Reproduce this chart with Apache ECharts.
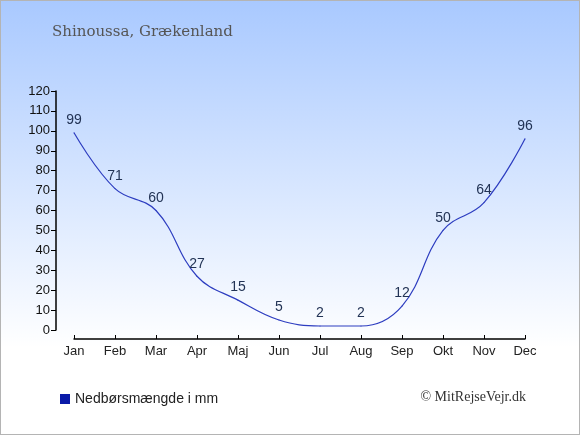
<!DOCTYPE html>
<html lang="da">
<head>
    <meta charset="UTF-8" />
    <title>Nedbør Shinoussa</title>
    <style>
        html, body {
            margin: 0;
            padding: 0;
        }

        #chart {
            width: 580px;
            height: 435px;
            box-sizing: border-box;
            border: 1px solid #b4b4b4;
        }
    </style>
</head>
<body>
    <div id="chart"></div>

    <script src="https://cdn.jsdelivr.net/npm/echarts@6/dist/echarts.min.js"></script>
    <script>
        // maaneder og nedboer (mm)
        const months = ['Jan', 'Feb', 'Mar', 'Apr', 'Maj', 'Jun', 'Jul', 'Aug', 'Sep', 'Okt', 'Nov', 'Dec']
        const rain = [99, 71, 60, 27, 15, 5, 2, 2, 12, 50, 64, 96]
        const yTicks = [0, 10, 20, 30, 40, 50, 60, 70, 80, 90, 100, 110, 120]

        const chart = echarts.init(document.getElementById('chart'))

        const option = {
            animation: false,
            backgroundColor: {
                type: 'linear', x: 0, y: 0, x2: 0, y2: 1,
                colorStops: [
                    { offset: 0, color: '#a9c9ff' },
                    { offset: 0.8, color: '#ffffff' },
                    { offset: 1, color: '#ffffff' }
                ]
            },
            title: {
                text: 'Shinoussa, Grækenland',
                left: 51,
                top: 24,
                padding: 0,
                textStyle: {
                    fontFamily: 'DejaVu Serif',
                    fontWeight: 'normal',
                    fontSize: 15,
                    color: '#555555'
                }
            },
            grid: {
                left: 73,
                right: 54,
                top: 90,
                bottom: 104
            },
            xAxis: {
                type: 'category',
                data: months,
                boundaryGap: false,
                offset: 9,
                axisLine: { onZero: false, lineStyle: { color: '#000', width: 1.5 } },
                axisTick: { inside: true, length: 4, alignWithLabel: true, lineStyle: { color: '#000' } },
                axisLabel: {
                    color: '#222',
                    fontFamily: 'Liberation Sans',
                    fontSize: 13,
                    margin: 6,
                    interval: 0
                },
                splitLine: { show: false }
            },
            yAxis: {
                type: 'value',
                min: yTicks[0],
                max: yTicks[yTicks.length - 1],
                interval: 10,
                offset: 18,
                axisLine: { show: true, lineStyle: { color: '#000', width: 1.5 } },
                axisTick: { show: true, length: 5, lineStyle: { color: '#000' } },
                axisLabel: {
                    color: '#111',
                    fontFamily: 'Liberation Sans',
                    fontSize: 13,
                    margin: 6
                },
                splitLine: { show: false }
            },
            legend: {
                left: 54,
                top: 386,
                icon: 'rect',
                itemWidth: 10,
                itemHeight: 10,
                itemGap: 6,
                textStyle: {
                    color: '#222',
                    fontFamily: 'Liberation Sans',
                    fontSize: 14
                },
                data: [{ name: 'Nedbørsmængde i mm', itemStyle: { color: '#0a1aa8' } }]
            },
            graphic: [
                {
                    type: 'text',
                    right: 53,
                    top: 389,
                    style: {
                        text: '© MitRejseVejr.dk',
                        fill: '#333',
                        font: '14px "Liberation Serif"'
                    }
                }
            ],
            series: [
                {
                    name: 'Nedbørsmængde i mm',
                    type: 'line',
                    data: rain,
                    smooth: 0.4,
                    symbol: 'circle',
                    symbolSize: 1,
                    showSymbol: true,
                    itemStyle: { color: '#2d3dc0' },
                    lineStyle: { color: '#2d3dc0', width: 1.2 },
                    label: {
                        show: true,
                        position: 'top',
                        distance: 5,
                        color: '#223355',
                        fontFamily: 'Liberation Sans',
                        fontSize: 14
                    }
                }
            ]
        }

        chart.setOption(option)
    </script>
</body>
</html>
